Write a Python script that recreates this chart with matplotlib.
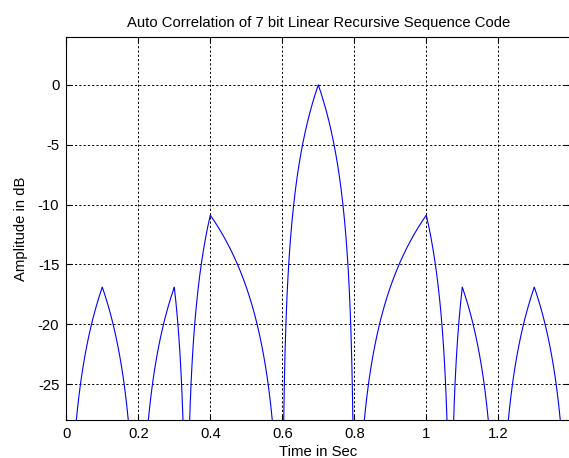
import numpy as np
import matplotlib
matplotlib.use("Agg")
import matplotlib.pyplot as plt

# aperiodic autocorrelation of the 7 chip code, one value per chip lag
# (chip length 0.1 s, zero lag sits at 0.7 s)
lag_time = [0.0, 0.1, 0.2, 0.3, 0.4, 0.5, 0.6, 0.7, 0.8, 0.9, 1.0, 1.1, 1.2, 1.3, 1.4]
lag_corr = [0, 1, 0, -1, 2, 1, 0, 7, 0, 1, 2, -1, 0, 1, 0]
code_len = 7

x_ticks = [0, 0.2, 0.4, 0.6, 0.8, 1.0, 1.2]
x_tick_labels = ["0", "0.2", "0.4", "0.6", "0.8", "1", "1.2"]
y_ticks = [-25, -20, -15, -10, -5, 0]

plt.rcParams["font.family"] = ["Liberation Sans", "DejaVu Sans"]
plt.rcParams["axes.unicode_minus"] = False
fs = 10.7

# rectangular chips -> correlation is linear between chip lags
t = np.linspace(lag_time[0], lag_time[-1], 5601)
r = np.interp(t, lag_time, lag_corr) / code_len
amp_db = 20 * np.log10(np.maximum(np.abs(r), 1e-6))

fig = plt.figure(figsize=(5.69, 4.58), dpi=100)
ax = fig.add_axes([66.3 / 569, 38 / 458, 504 / 569, 383 / 458])

ax.plot(t, amp_db, color="blue", linewidth=0.8)

ax.set_xlim(0, 1.4)
ax.set_ylim(-28, 4)
ax.set_xticks(x_ticks)
ax.set_xticklabels(x_tick_labels)
ax.set_yticks(y_ticks)
ax.tick_params(direction="in", length=4, width=0.8, labelsize=fs,
               top=True, right=True, pad=5)
ax.grid(True, color="black", linestyle=(0, (2.2, 2.2)), linewidth=0.7)
for s in ax.spines.values():
    s.set_linewidth(0.8)

ax.set_title("Auto Correlation of 7 bit Linear Recursive Sequence Code",
             fontsize=fs, pad=7)
ax.set_xlabel("Time in Sec", fontsize=fs, labelpad=3)
ax.set_ylabel("Amplitude in dB", fontsize=fs, labelpad=7)

fig.savefig("out.png", dpi=100)
